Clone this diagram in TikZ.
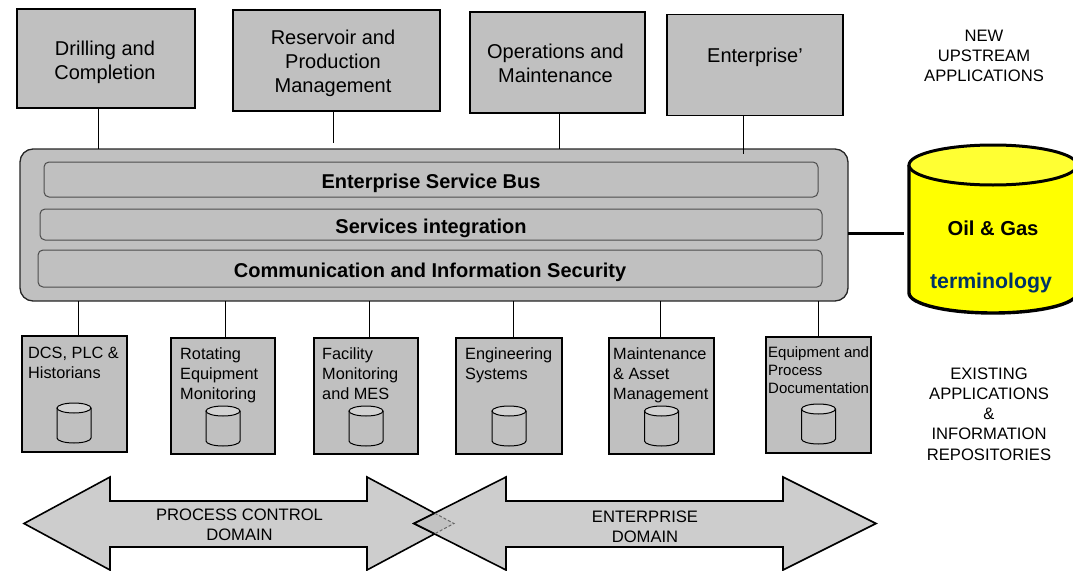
\documentclass[tikz,border=0pt]{standalone}
\usepackage{fontspec}
\setmainfont{Liberation Sans}
\definecolor{boxgray}{HTML}{C0C0C0}
\definecolor{lightend}{HTML}{D2D2D2}
\definecolor{arrowgray}{HTML}{CDCDCD}
\definecolor{overlapgray}{HTML}{C2C2C2}
\definecolor{oilyellow}{HTML}{FFFF00}
\definecolor{oilend}{HTML}{FFFF33}
\definecolor{termblue}{HTML}{003366}
\tikzset{
    newbox/.style={draw, line width=1.6pt, fill=boxgray, inner sep=0pt, outer sep=0pt},
    oldbox/.style={draw, line width=2pt, fill=boxgray, inner sep=0pt, outer sep=0pt},
    layerbox/.style={draw=black!70, line width=1pt, rounded corners=5pt, inner sep=0pt, outer sep=0pt, text height=17pt, text depth=0pt, font=\fontsize{20}{24}\selectfont\bfseries},
    newlabel/.style={align=center, inner sep=0pt, font=\fontsize{20}{24}\selectfont},
    oldlabel/.style={align=left, anchor=north west, inner sep=0pt, font=\fontsize{16.3}{20.4}\selectfont},
    sidelabel/.style={align=center, inner sep=0pt, font=\fontsize{16.6}{20.2}\selectfont},
    link/.style={line width=1pt},
    domainarrow/.style={draw, line width=1.6pt, fill=arrowgray, line join=miter},
}
% small database drum: x of the axis, y of the top
\newcommand{\smalldb}[2]{
\filldraw[line width=1pt, fill=boxgray] (#1-17,#2+5) -- (#1-17,#2+35) arc (180:360:17pt and 5pt) -- (#1+17,#2+5);
\filldraw[line width=1pt, fill=lightend] (#1,#2+5) ellipse (17pt and 5pt);
}
\begin{document}
\begin{tikzpicture}[x=1pt,y=-1pt]
\useasboundingbox (0,0) rectangle (1073,570);

\node[newbox, minimum width=178pt, minimum height=99pt] (drill) at (106,58.5) {};
\node[newbox, minimum width=207pt, minimum height=101pt] (reservoir) at (336.5,60.5) {};
\node[newbox, minimum width=175pt, minimum height=101pt] (operations) at (557.5,62.5) {};
\node[newbox, minimum width=176pt, minimum height=101pt] (enterprise) at (755,65) {};
\node[newlabel] (drilltext) at (105,62) {Drilling and\\Completion};
\node[newlabel] (reservoirtext) at (333,63) {Reservoir and\\Production\\Management};
\node[newlabel] (operationstext) at (555.5,63) {Operations and\\Maintenance};
\node[newlabel] (enterprisetext) at (755,57) {Enterprise'};

\node[draw=black!85, line width=1.3pt, fill=boxgray, rounded corners=13pt, minimum width=828pt, minimum height=152pt, outer sep=0pt] (bus) at (434,225) {};
\node[layerbox, minimum width=774pt, minimum height=35pt] (esb) at (431,179.5) {Enterprise Service Bus};
\node[layerbox, minimum width=782pt, minimum height=31pt] (integration) at (431,224.5) {Services integration};
\node[layerbox, minimum width=784pt, minimum height=37pt] (security) at (430,268.5) {Communication and Information Security};

\draw[link] ([xshift=-8pt]drill.south) -- ([xshift=-8pt]drill.south |- bus.north);
\draw[link] ([xshift=-3pt]reservoir.south) -- ++(0,32);
\draw[link] ([xshift=1.5pt]operations.south) -- ([xshift=1.5pt]operations.south |- bus.north);
\draw[link] ([xshift=-12pt]enterprise.south) -- ++(0,38);

\node[oldbox, minimum width=105pt, minimum height=116pt] (dcs) at (74.5,394) {};
\node[oldbox, minimum width=104pt, minimum height=116pt] (rotating) at (223,396) {};
\node[oldbox, minimum width=104pt, minimum height=116pt] (facility) at (366,396) {};
\node[oldbox, minimum width=106pt, minimum height=116pt] (engineering) at (509,396) {};
\node[oldbox, minimum width=105pt, minimum height=116pt] (maintenance) at (661.5,396) {};
\node[oldbox, minimum width=105pt, minimum height=116pt] (equipment) at (818.5,394.5) {};

\node[oldlabel] (dcstext) at (28,347) {DCS, PLC \&\\Historians};
\node[oldlabel] (rotatingtext) at (180,347) {Rotating\\Equipment\\Monitoring};
\node[oldlabel] (facilitytext) at (322,347) {Facility\\Monitoring\\and MES};
\node[oldlabel] (engineeringtext) at (465,347) {Engineering\\Systems};
\node[oldlabel] (maintenancetext) at (613,347) {Maintenance\\\& Asset\\Management};
\node[oldlabel, font=\fontsize{15}{18}\selectfont] (equipmenttext) at (768,346) {Equipment and\\Process\\Documentation};

\smalldb{74}{403}
\smalldb{223}{406}
\smalldb{366}{406}
\smalldb{509}{406}
\smalldb{661.5}{406}
\smalldb{818.5}{404}

\draw[link] ([xshift=3.5pt]dcs.north) -- ([xshift=3.5pt]dcs.north |- bus.south);
\draw[link] ([xshift=2pt]rotating.north) -- ([xshift=2pt]rotating.north |- bus.south);
\draw[link] ([xshift=3pt]facility.north) -- ([xshift=3pt]facility.north |- bus.south);
\draw[link] ([xshift=4pt]engineering.north) -- ([xshift=4pt]engineering.north |- bus.south);
\draw[link] ([xshift=-1.5pt]maintenance.north) -- ([xshift=-1.5pt]maintenance.north |- bus.south);
\draw[link] ([xshift=-0.5pt]equipment.north) -- ([xshift=-0.5pt]equipment.north |- bus.south);

\filldraw[line width=3.4pt, fill=oilyellow] (909,165) -- (909,293) arc (180:360:84pt and 20pt) -- (1077,165);
\filldraw[line width=3pt, fill=oilend] (993,165) ellipse (84pt and 20pt);
\coordinate (oilgas) at (904,233);
\node[inner sep=0pt, font=\fontsize{20.2}{24}\selectfont\bfseries] (oiltext) at (993,228) {Oil \& Gas};
\node[inner sep=0pt, text=termblue, font=\fontsize{21.3}{24}\selectfont\bfseries] (termtext) at (991,283) {terminology};
\draw[line width=3pt] (bus.east |- oilgas) -- (oilgas);

\node[sidelabel] (newtext) at (984,56) {NEW\\UPSTREAM\\APPLICATIONS};
\node[sidelabel] (oldtext) at (989,414) {EXISTING\\APPLICATIONS\\\&\\INFORMATION\\REPOSITORIES};

\draw[domainarrow] (24,523.5)--(110,477)--(110,501)--(367,501)--(367,477)--(454,523.5)--(367,570)--(367,547)--(110,547)--(110,570)--cycle;
\draw[domainarrow] (414,523.5)--(506,477)--(506,501)--(783,501)--(783,477)--(876,523.5)--(783,570)--(783,547)--(506,547)--(506,570)--cycle;
\fill[overlapgray] (434.7,513.2)--(454,523.5)--(434.7,533.8)--(414,523.5)--cycle;
\draw[black!60, line width=1pt, densely dashed] (434.7,513.2)--(454,523.5)--(434.7,533.8);
\draw[line width=1.6pt] (434.7,513.2)--(414,523.5)--(434.7,533.8);

\node[sidelabel] (processtext) at (239.5,525) {PROCESS CONTROL\\DOMAIN};
\node[sidelabel] (enterprisedomain) at (645,526.5) {ENTERPRISE\\DOMAIN};
\end{tikzpicture}
\end{document}
